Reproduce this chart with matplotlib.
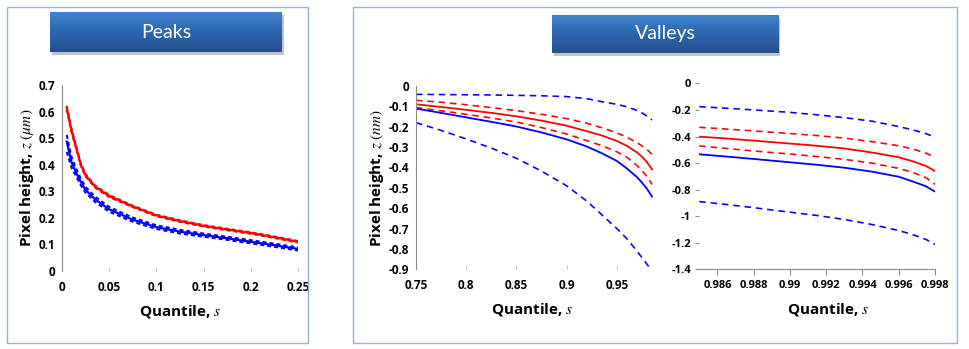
import numpy as np
import matplotlib
matplotlib.use("Agg")
import matplotlib.pyplot as plt
from matplotlib.patches import Rectangle

plt.rcParams["font.family"] = ["Open Sans", "DejaVu Sans"]
plt.rcParams["mathtext.fontset"] = "stix"
plt.rcParams["axes.unicode_minus"] = False

W, H = 969, 349
RED = "#ff0000"
BLUE = "#0000ff"
GRAY = "#8c8c8c"

# ---- Peaks (quantile 0 .. 0.25) ----
peak_s = [0.005, 0.01, 0.015, 0.02, 0.025, 0.035, 0.05, 0.075, 0.1, 0.125, 0.15, 0.175, 0.2, 0.225, 0.25]
peak_red = [0.615, 0.53, 0.465, 0.40, 0.36, 0.318, 0.282, 0.243, 0.209, 0.188, 0.170, 0.156, 0.143, 0.127, 0.110]
peak_red_hi = [0.622, 0.536, 0.470, 0.405, 0.364, 0.322, 0.286, 0.246, 0.212, 0.191, 0.173, 0.159, 0.146, 0.130, 0.113]
peak_red_lo = [0.608, 0.524, 0.460, 0.395, 0.356, 0.314, 0.278, 0.240, 0.206, 0.185, 0.167, 0.153, 0.140, 0.124, 0.107]
peak_blue = [0.487, 0.41, 0.37, 0.335, 0.305, 0.27, 0.232, 0.193, 0.165, 0.148, 0.135, 0.123, 0.11, 0.097, 0.083]
peak_blue_hi = [0.512, 0.43, 0.385, 0.347, 0.316, 0.28, 0.241, 0.201, 0.172, 0.155, 0.141, 0.129, 0.116, 0.103, 0.089]
peak_blue_lo = [0.448, 0.39, 0.355, 0.322, 0.294, 0.26, 0.223, 0.185, 0.158, 0.141, 0.129, 0.117, 0.104, 0.091, 0.077]
peak_xticks = [0, 0.05, 0.1, 0.15, 0.2, 0.25]
peak_yticks = [0, 0.1, 0.2, 0.3, 0.4, 0.5, 0.6, 0.7]

# ---- Valleys, upper quantiles 0.75 .. 0.985 ----
val1_s = [0.75, 0.775, 0.8, 0.825, 0.85, 0.875, 0.9, 0.92, 0.935, 0.95, 0.96, 0.97, 0.975, 0.98, 0.985]
val1_blue_hi = [-0.041, -0.042, -0.043, -0.044, -0.046, -0.048, -0.052, -0.062, -0.077, -0.09, -0.102, -0.12, -0.132, -0.148, -0.167]
val1_red_hi = [-0.07, -0.08, -0.092, -0.106, -0.121, -0.139, -0.16, -0.183, -0.205, -0.23, -0.252, -0.278, -0.294, -0.312, -0.335]
val1_red = [-0.09, -0.103, -0.117, -0.132, -0.149, -0.17, -0.195, -0.222, -0.243, -0.27, -0.294, -0.326, -0.347, -0.374, -0.409]
val1_red_lo = [-0.106, -0.122, -0.139, -0.157, -0.177, -0.204, -0.236, -0.268, -0.293, -0.323, -0.35, -0.39, -0.415, -0.445, -0.483]
val1_blue = [-0.111, -0.132, -0.154, -0.176, -0.199, -0.228, -0.262, -0.297, -0.33, -0.368, -0.405, -0.447, -0.474, -0.505, -0.543]
val1_blue_lo = [-0.18, -0.218, -0.26, -0.305, -0.355, -0.418, -0.49, -0.565, -0.632, -0.7, -0.75, -0.81, -0.843, -0.875, -0.908]
val1_xticks = [0.75, 0.8, 0.85, 0.9, 0.95]
val1_yticks = [0, -0.1, -0.2, -0.3, -0.4, -0.5, -0.6, -0.7, -0.8, -0.9]

# ---- Valleys, extreme quantiles 0.985 .. 0.998 ----
val2_s = [0.985, 0.9865, 0.988, 0.99, 0.9915, 0.993, 0.9945, 0.996, 0.9968, 0.9975, 0.998]
val2_blue_hi = [-0.175, -0.187, -0.2, -0.218, -0.237, -0.258, -0.284, -0.325, -0.351, -0.378, -0.406]
val2_red_hi = [-0.331, -0.344, -0.358, -0.378, -0.393, -0.412, -0.438, -0.47, -0.495, -0.525, -0.557]
val2_red = [-0.401, -0.415, -0.431, -0.453, -0.47, -0.49, -0.52, -0.556, -0.588, -0.622, -0.66]
val2_red_lo = [-0.471, -0.49, -0.509, -0.532, -0.551, -0.572, -0.6, -0.64, -0.672, -0.71, -0.76]
val2_blue = [-0.534, -0.551, -0.569, -0.594, -0.613, -0.635, -0.664, -0.703, -0.74, -0.775, -0.815]
val2_blue_lo = [-0.89, -0.912, -0.936, -0.97, -0.995, -1.025, -1.062, -1.108, -1.14, -1.175, -1.212]
val2_xticks = [0.986, 0.988, 0.99, 0.992, 0.994, 0.996, 0.998]
val2_yticks = [0, -0.2, -0.4, -0.6, -0.8, -1, -1.2, -1.4]


def px_axes(fig, left, top, right, bottom, **kw):
    return fig.add_axes([left / W, 1 - bottom / H, (right - left) / W, (bottom - top) / H], **kw)


def fig_rect(fig, left, top, right, bottom, **kw):
    r = Rectangle((left / W, 1 - bottom / H), (right - left) / W, (bottom - top) / H,
                  transform=fig.transFigure, **kw)
    fig.patches.append(r)


def banner(fig, left, top, right, bottom, text):
    # soft shadow, then a vertical blue gradient on top of it
    fig_rect(fig, left + 2, top + 3, right + 2, bottom + 3, facecolor="#c4c4c4",
             edgecolor="none", zorder=0)
    ax = px_axes(fig, left, top, right, bottom, zorder=5)
    grad = np.linspace(0, 1, 64).reshape(-1, 1)
    cmap = matplotlib.colors.LinearSegmentedColormap.from_list("b", ["#3f83d0", "#2d65ae", "#24508f"])
    ax.imshow(grad, aspect="auto", cmap=cmap, extent=[0, 1, 0, 1])
    ax.set_axis_off()
    ax.text(0.5, 0.5, text, color="white", fontsize=14, ha="center", va="center",
            family=["Lato", "DejaVu Sans"], transform=ax.transAxes)


def fmt(v):
    return f"{v:g}"


def style_axes(ax, xticks, yticks, show_left=True, show_bottom=False, size=8.5):
    for sp in ax.spines.values():
        sp.set_visible(False)
    ax.set_xticks(xticks, labels=[fmt(v) for v in xticks], fontweight="bold", fontsize=size)
    ax.set_yticks(yticks, labels=[fmt(v) for v in yticks], fontweight="bold", fontsize=size)
    if show_left:
        ax.spines["left"].set_visible(True)
        ax.spines["left"].set_color(GRAY)
        ax.tick_params(axis="y", length=0, pad=5)
    else:
        ax.tick_params(axis="y", direction="out", length=3, color=GRAY, pad=3)
    if show_bottom:
        ax.spines["bottom"].set_visible(True)
        ax.spines["bottom"].set_color(GRAY)
        ax.tick_params(axis="x", direction="out", length=4, color=GRAY, pad=4)
    else:
        ax.tick_params(axis="x", direction="in", length=3, color="#c8c8c8", pad=7)
    ax.patch.set_alpha(0)


def draw_set(ax, s, red, red_hi, red_lo, blue, blue_hi, blue_lo, lw=1.3, dash=(4, 3)):
    ax.plot(s, blue_hi, color=BLUE, lw=lw * 0.9, dashes=dash)
    ax.plot(s, blue_lo, color=BLUE, lw=lw * 0.9, dashes=dash)
    ax.plot(s, red_hi, color=RED, lw=lw * 0.9, dashes=dash)
    ax.plot(s, red_lo, color=RED, lw=lw * 0.9, dashes=dash)
    ax.plot(s, blue, color=BLUE, lw=lw)
    ax.plot(s, red, color=RED, lw=lw)


fig = plt.figure(figsize=(W / 100, H / 100), dpi=100)

# panel frames
fig_rect(fig, 7, 7, 308, 343, facecolor="none", edgecolor="#95b3d7", lw=1.0)
fig_rect(fig, 353, 7, 957, 343, facecolor="none", edgecolor="#95b3d7", lw=1.0)

banner(fig, 50, 12, 282, 52, "Peaks")
banner(fig, 552, 15, 778, 53, "Valleys")

# Peaks
ax1 = px_axes(fig, 62, 85, 298, 271)
draw_set(ax1, peak_s, peak_red, peak_red_hi, peak_red_lo,
         peak_blue, peak_blue_hi, peak_blue_lo, lw=1.6, dash=(2, 1.5))
ax1.set_xlim(0, 0.25)
ax1.set_ylim(0, 0.7)
style_axes(ax1, peak_xticks, peak_yticks)

# Valleys, first range
ax2 = px_axes(fig, 416, 86, 653, 269.3)
draw_set(ax2, val1_s, val1_red, val1_red_hi, val1_red_lo,
         val1_blue, val1_blue_hi, val1_blue_lo)
ax2.set_xlim(0.75, 0.986)
ax2.set_ylim(-0.9, 0)
style_axes(ax2, val1_xticks, val1_yticks)

# Valleys, extreme range
ax3 = px_axes(fig, 699.3, 83.4, 935, 269.3)
draw_set(ax3, val2_s, val2_red, val2_red_hi, val2_red_lo,
         val2_blue, val2_blue_hi, val2_blue_lo)
ax3.set_xlim(0.985, 0.998)
ax3.set_ylim(-1.4, 0)
style_axes(ax3, val2_xticks, val2_yticks, show_left=False, show_bottom=True, size=8)

# axis titles
lab_kw = dict(fontsize=11, fontweight="bold", ha="center", va="center")
fig.text(27 / W, 1 - 178 / H, r"Pixel height, $z$ $(\mu m)$", rotation=90, **lab_kw)
fig.text(377 / W, 1 - 178 / H, r"Pixel height, $z$ $(nm)$", rotation=90, **lab_kw)
fig.text(180 / W, 1 - 311 / H, r"Quantile, $s$", **lab_kw)
fig.text(532 / W, 1 - 310 / H, r"Quantile, $s$", **lab_kw)
fig.text(828 / W, 1 - 310 / H, r"Quantile, $s$", **lab_kw)

fig.savefig("out.png", dpi=100)
